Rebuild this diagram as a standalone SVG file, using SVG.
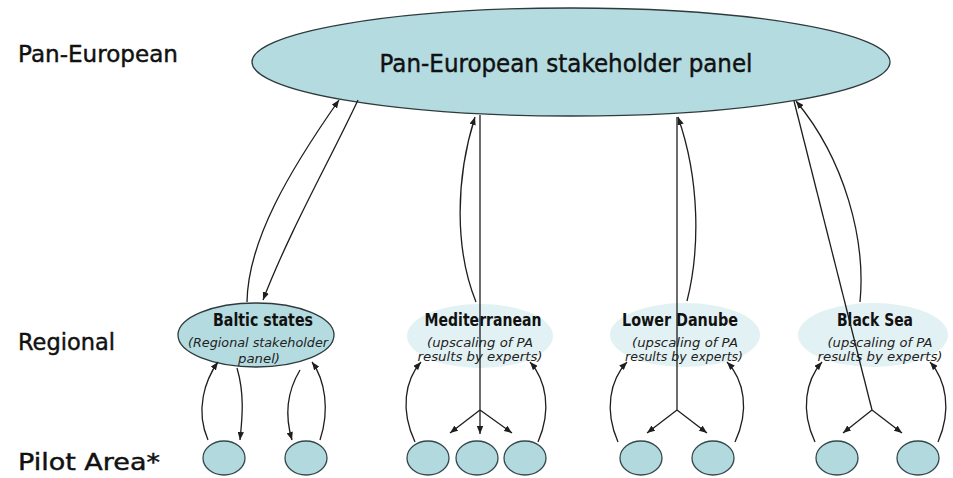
<svg xmlns="http://www.w3.org/2000/svg" width="953" height="478" viewBox="0 0 953 478">
  <style>
    .lvl { font-family: "DejaVu Sans", "Liberation Sans", sans-serif; font-size: 23px; fill: #111; stroke: #111; stroke-width: 0.45px; }
    .main { font-family: "DejaVu Sans", "Liberation Sans", sans-serif; font-size: 25px; fill: #111; stroke: #111; stroke-width: 0.45px; }
    .title { font-family: "DejaVu Sans", "Liberation Sans", sans-serif; font-size: 17px; font-weight: bold; fill: #111; }
    .sub { font-family: "DejaVu Sans", "Liberation Sans", sans-serif; font-size: 13px; font-style: italic; fill: #222; }
    .solid { fill: #b4dbe0; stroke: #2e3a3c; stroke-width: 1.3; }
    .faded { fill: #e2f1f3; stroke: none; }
    .pilot { fill: #b2d9de; stroke: #34484b; stroke-width: 1.3; }
    .con { fill: none; stroke: #1e1e1e; stroke-width: 1.3; }
  </style>
  <defs>
    <marker id="arrow" viewBox="0 0 10 8" refX="10" refY="4" markerWidth="8" markerHeight="6.4" markerUnits="userSpaceOnUse" orient="auto">
      <path d="M0,0 L10,4 L0,8 Z" fill="#1e1e1e"/>
    </marker>
  </defs>

  <rect width="953" height="478" fill="#ffffff"/>

  <!-- level labels -->
  <g id="levels">
    <text class="lvl" x="18" y="62" textLength="160" lengthAdjust="spacingAndGlyphs">Pan-European</text>
    <text class="lvl" x="18" y="350" textLength="97" lengthAdjust="spacingAndGlyphs">Regional</text>
    <text class="lvl" x="18" y="470" textLength="142" lengthAdjust="spacingAndGlyphs">Pilot Area*</text>
  </g>

  <!-- pan-European panel -->
  <g id="panel">
    <ellipse class="solid" cx="571" cy="62" rx="319" ry="54"/>
    <text class="main" x="566" y="72" text-anchor="middle" textLength="373" lengthAdjust="spacingAndGlyphs">Pan-European stakeholder panel</text>
  </g>

  <!-- regional nodes -->
  <g id="baltic">
    <ellipse class="solid" cx="256" cy="335" rx="78" ry="32"/>
    <text class="title" x="263" y="326" text-anchor="middle" textLength="100" lengthAdjust="spacingAndGlyphs">Baltic states</text>
    <text class="sub" x="258" y="347" text-anchor="middle" textLength="140" lengthAdjust="spacingAndGlyphs">(Regional stakeholder</text>
    <text class="sub" x="259" y="363" text-anchor="middle" textLength="42" lengthAdjust="spacingAndGlyphs">panel)</text>
  </g>
  <g id="mediterranean">
    <ellipse class="faded" cx="480" cy="336" rx="73" ry="32"/>
    <text class="title" x="483" y="326" text-anchor="middle" textLength="117" lengthAdjust="spacingAndGlyphs">Mediterranean</text>
    <text class="sub" x="480" y="347" text-anchor="middle" textLength="106" lengthAdjust="spacingAndGlyphs">(upscaling of PA</text>
    <text class="sub" x="480" y="361" text-anchor="middle" textLength="125" lengthAdjust="spacingAndGlyphs">results by experts)</text>
  </g>
  <g id="lower-danube">
    <ellipse class="faded" cx="685" cy="335" rx="75" ry="32"/>
    <text class="title" x="680" y="326" text-anchor="middle" textLength="116" lengthAdjust="spacingAndGlyphs">Lower Danube</text>
    <text class="sub" x="685" y="347" text-anchor="middle" textLength="106" lengthAdjust="spacingAndGlyphs">(upscaling of PA</text>
    <text class="sub" x="684" y="361" text-anchor="middle" textLength="118" lengthAdjust="spacingAndGlyphs">results by experts)</text>
  </g>
  <g id="black-sea">
    <ellipse class="faded" cx="873" cy="335" rx="75" ry="32"/>
    <text class="title" x="875" y="326" text-anchor="middle" textLength="76" lengthAdjust="spacingAndGlyphs">Black Sea</text>
    <text class="sub" x="880" y="347" text-anchor="middle" textLength="105" lengthAdjust="spacingAndGlyphs">(upscaling of PA</text>
    <text class="sub" x="880" y="361" text-anchor="middle" textLength="125" lengthAdjust="spacingAndGlyphs">results by experts)</text>
  </g>

  <!-- pilot areas -->
  <g id="pilot-baltic-1"><ellipse class="pilot" cx="224" cy="458" rx="21" ry="17"/></g>
  <g id="pilot-baltic-2"><ellipse class="pilot" cx="306" cy="458" rx="21" ry="17"/></g>
  <g id="pilot-med-1"><ellipse class="pilot" cx="428" cy="458" rx="21" ry="17"/></g>
  <g id="pilot-med-2"><ellipse class="pilot" cx="477" cy="458" rx="21" ry="17"/></g>
  <g id="pilot-med-3"><ellipse class="pilot" cx="525" cy="458" rx="21" ry="17"/></g>
  <g id="pilot-ld-1"><ellipse class="pilot" cx="641" cy="458" rx="21" ry="17"/></g>
  <g id="pilot-ld-2"><ellipse class="pilot" cx="713" cy="458" rx="21" ry="17"/></g>
  <g id="pilot-bs-1"><ellipse class="pilot" cx="837" cy="458" rx="21" ry="17"/></g>
  <g id="pilot-bs-2"><ellipse class="pilot" cx="918" cy="458" rx="21" ry="17"/></g>

  <!-- connectors -->
  <g id="connectors" class="con">
    <!-- Baltic states <-> panel -->
    <path d="M247,302 C248,240 290,170 339,100" marker-end="url(#arrow)"/>
    <path d="M358,100 C330,160 290,230 263,300" marker-end="url(#arrow)"/>
    <!-- Mediterranean -->
    <path d="M476,302 C455,250 455,180 475,117" marker-end="url(#arrow)"/>
    <path d="M480,115 L480,410"/>
    <path d="M480,410 L450,433" marker-end="url(#arrow)"/>
    <path d="M480,410 L480,434" marker-end="url(#arrow)"/>
    <path d="M480,410 L512,433" marker-end="url(#arrow)"/>
    <!-- Lower Danube -->
    <path d="M687,301 C700,250 700,180 678,117" marker-end="url(#arrow)"/>
    <path d="M677,117 L677,410"/>
    <path d="M677,410 L647,433" marker-end="url(#arrow)"/>
    <path d="M677,410 L707,433" marker-end="url(#arrow)"/>
    <!-- Black Sea -->
    <path d="M860,302 C866,240 845,160 796,101" marker-end="url(#arrow)"/>
    <path d="M794,101 L872,410"/>
    <path d="M872,410 L843,433" marker-end="url(#arrow)"/>
    <path d="M872,410 L902,433" marker-end="url(#arrow)"/>
    <!-- pilot areas <-> regions -->
    <path d="M208,440 C195,410 205,380 218,362" marker-end="url(#arrow)"/>
    <path d="M237,368 C245,395 242,420 240,440" marker-end="url(#arrow)"/>
    <path d="M300,370 C285,395 286,420 292,440" marker-end="url(#arrow)"/>
    <path d="M320,440 C330,410 325,380 312,362" marker-end="url(#arrow)"/>
    <path d="M415,442 C400,410 405,380 421,362" marker-end="url(#arrow)"/>
    <path d="M538,442 C552,410 546,380 530,362" marker-end="url(#arrow)"/>
    <path d="M618,442 C604,410 610,380 627,362" marker-end="url(#arrow)"/>
    <path d="M735,442 C750,410 744,380 727,362" marker-end="url(#arrow)"/>
    <path d="M815,442 C800,410 806,380 822,362" marker-end="url(#arrow)"/>
    <path d="M938,442 C952,410 946,380 930,362" marker-end="url(#arrow)"/>
  </g>
</svg>
